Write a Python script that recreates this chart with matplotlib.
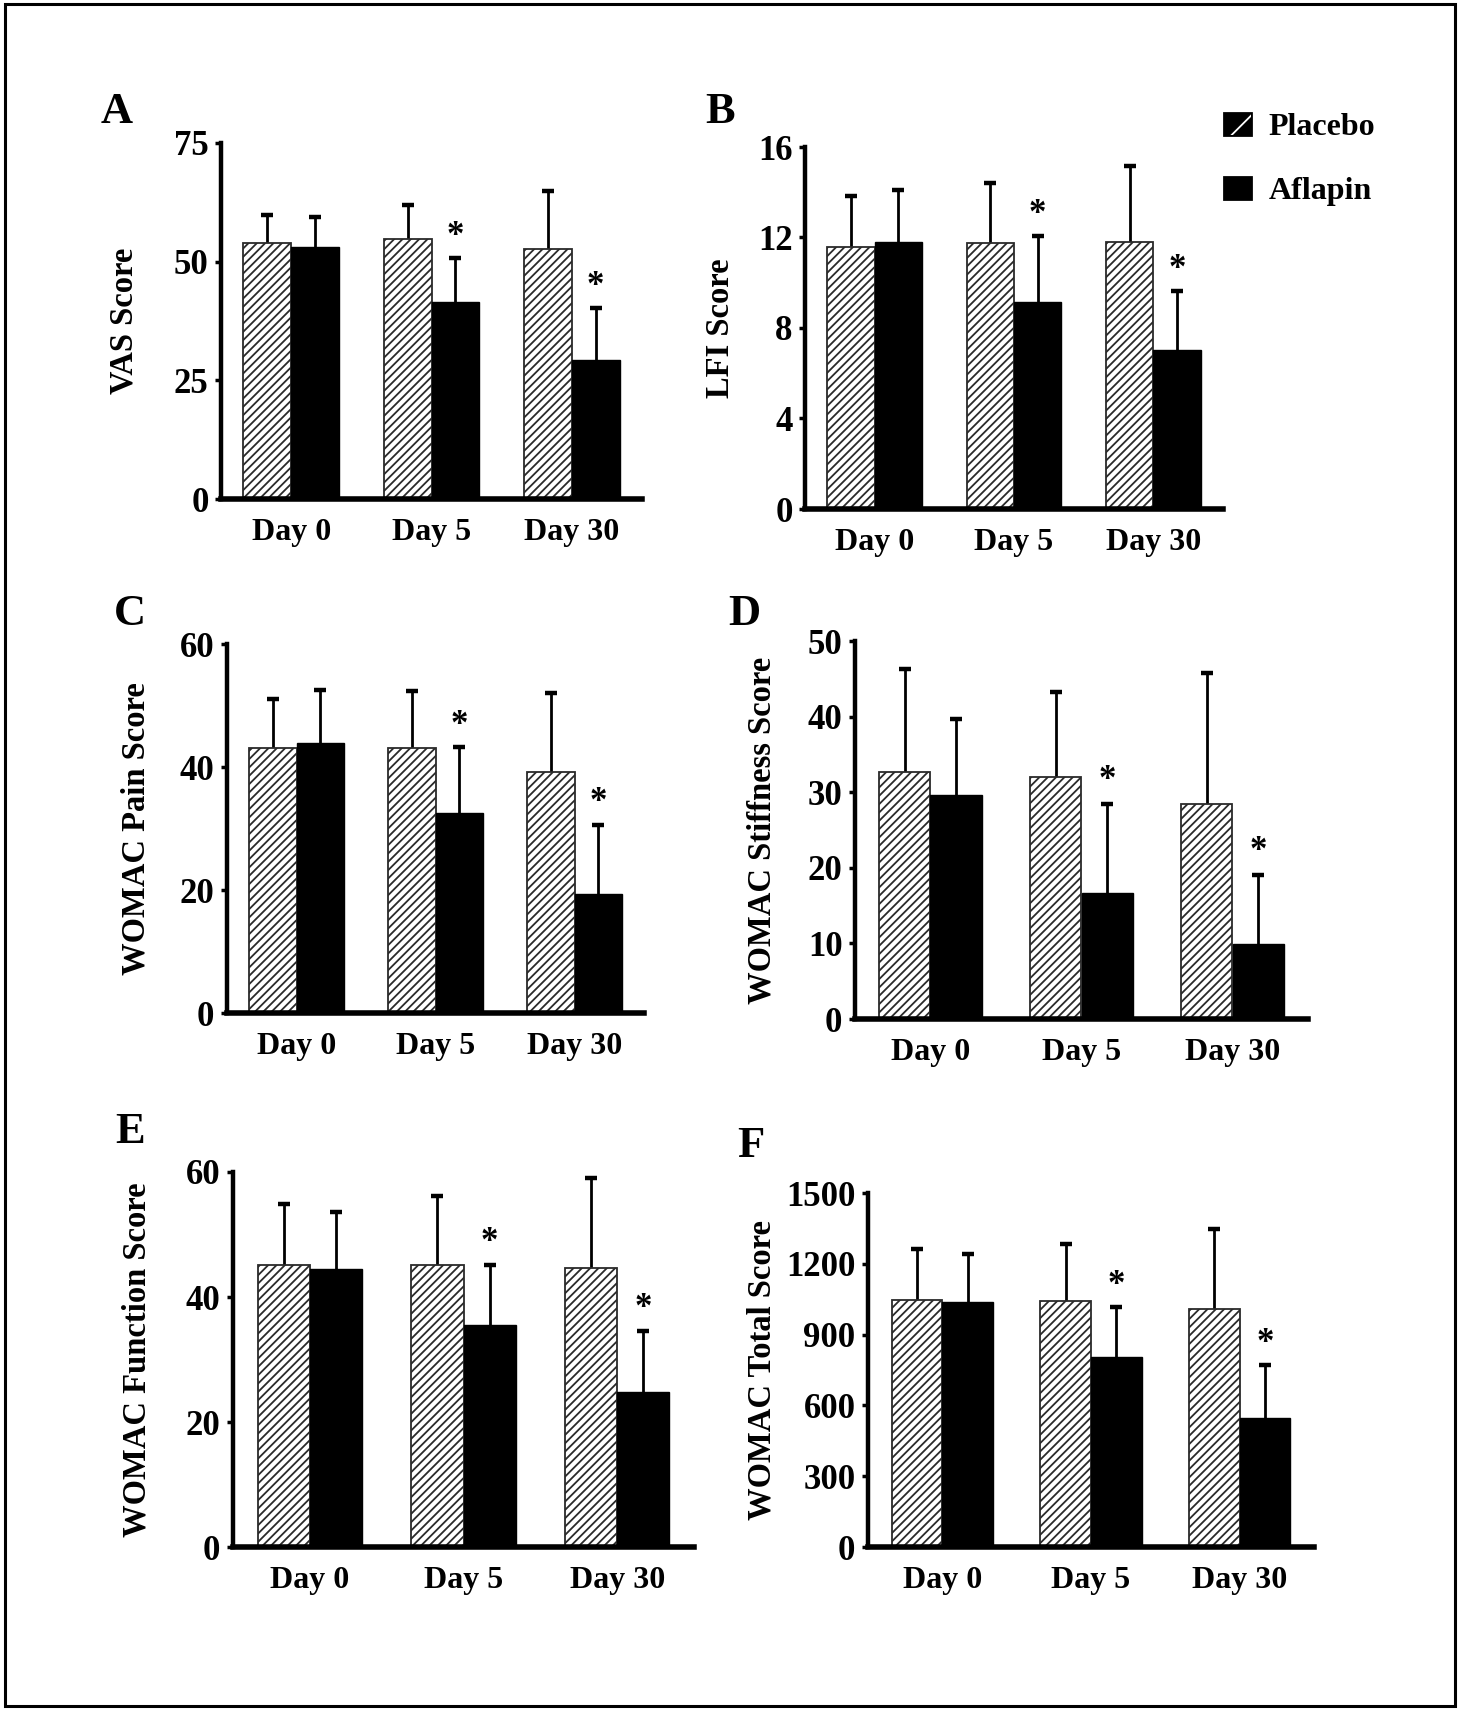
import numpy as np
import matplotlib.pyplot as plt
from matplotlib.patches import Patch, Rectangle

plt.rcParams['font.family'] = ['Liberation Serif', 'DejaVu Serif']
plt.rcParams['font.weight'] = 'bold'
plt.rcParams['hatch.linewidth'] = 1.3
plt.rcParams['hatch.color'] = '#2a2a2a'

days = ['Day 0', 'Day 5', 'Day 30']

vas_placebo = [54.0, 54.8, 52.7]
vas_placebo_sd = [5.8, 7.1, 12.2]
vas_aflapin = [53.1, 41.5, 29.3]
vas_aflapin_sd = [6.4, 9.3, 11.0]

lfi_placebo = [11.57, 11.74, 11.81]
lfi_placebo_sd = [2.25, 2.65, 3.36]
lfi_aflapin = [11.79, 9.16, 7.03]
lfi_aflapin_sd = [2.30, 2.89, 2.60]

pain_placebo = [43.1, 43.1, 39.2]
pain_placebo_sd = [8.0, 9.2, 12.9]
pain_aflapin = [43.9, 32.5, 19.3]
pain_aflapin_sd = [8.7, 10.7, 11.3]

stiff_placebo = [32.7, 32.0, 28.4]
stiff_placebo_sd = [13.6, 11.3, 17.4]
stiff_aflapin = [29.6, 16.7, 9.9]
stiff_aflapin_sd = [10.1, 11.8, 9.2]

func_placebo = [45.1, 45.1, 44.6]
func_placebo_sd = [9.8, 11.1, 14.5]
func_aflapin = [44.5, 35.5, 24.8]
func_aflapin_sd = [9.1, 9.6, 9.8]

total_placebo = [1047, 1042, 1009]
total_placebo_sd = [214, 240, 337]
total_aflapin = [1039, 805, 547]
total_aflapin_sd = [202, 213, 226]

# significant vs placebo (asterisk over Aflapin bar)
signif = [False, True, True]

W, H = 1461, 1710
fig = plt.figure(figsize=(W / 100, H / 100), dpi=100)


def px_axes(x0, y0, x1, y1):
    return fig.add_axes([x0 / W, 1 - y1 / H, (x1 - x0) / W, (y1 - y0) / H])


panels = [
    ('A', 'VAS Score', vas_placebo, vas_placebo_sd, vas_aflapin, vas_aflapin_sd,
     [0, 25, 50, 75], (221, 143, 642, 499), (101, 123), 139),
    ('B', 'LFI Score', lfi_placebo, lfi_placebo_sd, lfi_aflapin, lfi_aflapin_sd,
     [0, 4, 8, 12, 16], (805, 147, 1223, 509), (705, 123), 736),
    ('C', 'WOMAC Pain Score', pain_placebo, pain_placebo_sd, pain_aflapin, pain_aflapin_sd,
     [0, 20, 40, 60], (227, 644, 644, 1013), (114, 625), 152),
    ('D', 'WOMAC Stiffness Score', stiff_placebo, stiff_placebo_sd, stiff_aflapin, stiff_aflapin_sd,
     [0, 10, 20, 30, 40, 50], (855, 641, 1308, 1019), (728, 625), 778),
    ('E', 'WOMAC Function Score', func_placebo, func_placebo_sd, func_aflapin, func_aflapin_sd,
     [0, 20, 40, 60], (233, 1172, 694, 1547), (115, 1143), 152),
    ('F', 'WOMAC Total Score', total_placebo, total_placebo_sd, total_aflapin, total_aflapin_sd,
     [0, 300, 600, 900, 1200, 1500], (868, 1193, 1314, 1547), (737, 1157), 778),
]

x = np.arange(len(days))
bw = 0.34


def upper_err(ax, xs, means, sds):
    tops = np.array(means) + np.array(sds)
    ax.vlines(xs, means, tops, colors='black', linewidth=2, zorder=1)
    ax.plot(xs, tops, linestyle='none', marker='_', markersize=9, markeredgewidth=3.2,
            color='black', zorder=1)


for letter, ylab, pl, pl_sd, af, af_sd, yt, box, lpos, ylab_x in panels:
    ax = px_axes(*box)
    ax.bar(x - bw / 2, pl, bw, color='white', edgecolor='#2a2a2a', linewidth=1.3,
           hatch='////', zorder=2)
    ax.bar(x + bw / 2, af, bw, color='black', edgecolor='black', linewidth=1, zorder=2)
    upper_err(ax, x - bw / 2, pl, pl_sd)
    upper_err(ax, x + bw / 2, af, af_sd)
    ymax = yt[-1]
    for i in range(3):
        if signif[i]:
            ax.text(x[i] + bw / 2, af[i] + af_sd[i] + 0.06 * ymax, '*', ha='center',
                    va='center', fontsize=25, fontweight='bold')
    ax.set_xlim(-0.5, 2.5)
    ax.set_ylim(0, ymax)
    ax.set_yticks(yt)
    ax.set_xticks(x)
    ax.set_xticklabels(days, fontsize=23, fontweight='bold')
    ax.tick_params(axis='x', length=0, pad=14)
    ax.tick_params(axis='y', length=4, width=2.5, pad=5, labelsize=25)
    for lab in ax.get_yticklabels():
        lab.set_fontweight('bold')
    ax.spines['top'].set_visible(False)
    ax.spines['right'].set_visible(False)
    ax.spines['left'].set_linewidth(3.2)
    ax.spines['bottom'].set_linewidth(4)
    ax.spines['left'].set_zorder(3)
    ax.spines['bottom'].set_zorder(3)
    ax.set_ylabel(ylab, fontsize=23.5, fontweight='bold')
    ax.yaxis.set_label_coords((ylab_x - box[0]) / (box[2] - box[0]), 0.5)
    fig.text(lpos[0] / W, 1 - lpos[1] / H, letter, fontsize=32, fontweight='bold',
             ha='left', va='baseline')

placebo_handle = (Patch(facecolor='black', edgecolor='black', linewidth=2),
                  Patch(facecolor='none', edgecolor='white', hatch='/', linewidth=0))
aflapin_handle = Patch(facecolor='black', edgecolor='black', linewidth=2)
fig.legend([placebo_handle, aflapin_handle], ['Placebo', 'Aflapin'],
           loc='upper left', bbox_to_anchor=(1224 / W, 1 - 113 / H), frameon=False,
           prop={'size': 23, 'weight': 'bold'}, handlelength=0.85, handleheight=0.7,
           handletextpad=0.55, labelspacing=1.07, borderpad=0, borderaxespad=0)

fig.add_artist(Rectangle((5 / W, 4 / H), (1455 - 5) / W, (1706 - 4) / H,
                         transform=fig.transFigure, fill=False, edgecolor='black',
                         linewidth=2.2))

fig.savefig('out.png', dpi=100)
